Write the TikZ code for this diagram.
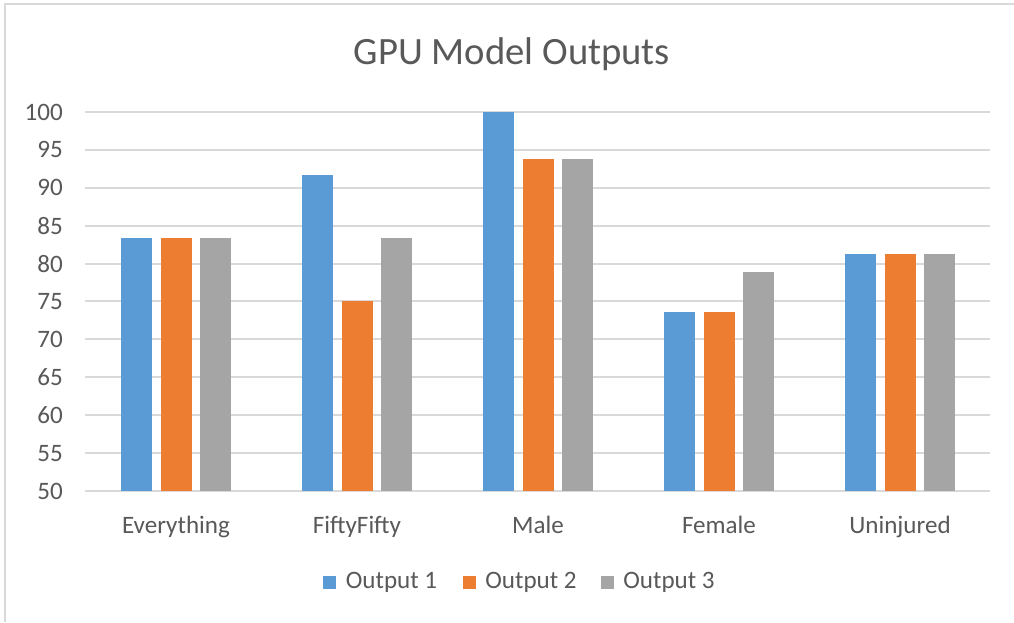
\documentclass[tikz,border=0pt]{standalone}
\usepackage{fontspec}
\setmainfont{Carlito}
\usetikzlibrary{positioning}
\definecolor{serA}{HTML}{5B9BD5}
\definecolor{serB}{HTML}{ED7D31}
\definecolor{serC}{HTML}{A5A5A5}
\definecolor{gridc}{HTML}{D9D9D9}
\definecolor{txt}{HTML}{595959}

\begin{document}
\begin{tikzpicture}[x=0.75pt,y=0.75pt,
    lbl/.style={font=\fontsize{18.8}{22}\selectfont,text=txt,inner sep=0pt},
    keybox/.style={minimum size=9.75pt,inner sep=0pt}]
  \useasboundingbox (0,0) rectangle (1014,622);
  \fill[white] (0,0) rectangle (1014,622);
  \draw[gridc,line width=1.5pt] (4.5,0) -- (4.5,617.5) -- (1014,617.5);
  % title
  \node[font=\fontsize{29}{34}\selectfont,text=txt,anchor=base] (title) at (512,557) {GPU Model Outputs};
  % grid lines and value axis
  \foreach \v in {50,55,...,100}{
    \draw[gridc,line width=1.5pt] (85,{131+(\v-50)*7.58}) -- (990,{131+(\v-50)*7.58});
    \node[lbl,anchor=east] (tick\v) at (63,{131+(\v-50)*7.58}) {\v};
  }
  % bars
  \foreach \i/\name/\a/\b/\c in {0/Everything/83.33/83.33/83.33,
      1/FiftyFifty/91.67/75/83.33, 2/Male/100/93.75/93.75,
      3/Female/73.68/73.68/78.95, 4/Uninjured/81.25/81.25/81.25}{
    \pgfmathsetmacro\cx{176+181*\i}
    \fill[serA] (\cx-55,131) rectangle (\cx-24,{131+(\a-50)*7.58});
    \fill[serB] (\cx-15.5,131) rectangle (\cx+15.5,{131+(\b-50)*7.58});
    \fill[serC] (\cx+24,131) rectangle (\cx+55,{131+(\c-50)*7.58});
    \node[lbl,anchor=base] (cat\i) at (\cx,89) {\name};
  }
  % legend
  \node[keybox,fill=serA] (key1) at (329.5,40) {};
  \node[lbl,right=7pt of key1] (leg1) {Output 1};
  \node[keybox,fill=serB] (key2) at (469,40) {};
  \node[lbl,right=7pt of key2] (leg2) {Output 2};
  \node[keybox,fill=serC] (key3) at (607,40) {};
  \node[lbl,right=7pt of key3] (leg3) {Output 3};
\end{tikzpicture}
\end{document}
